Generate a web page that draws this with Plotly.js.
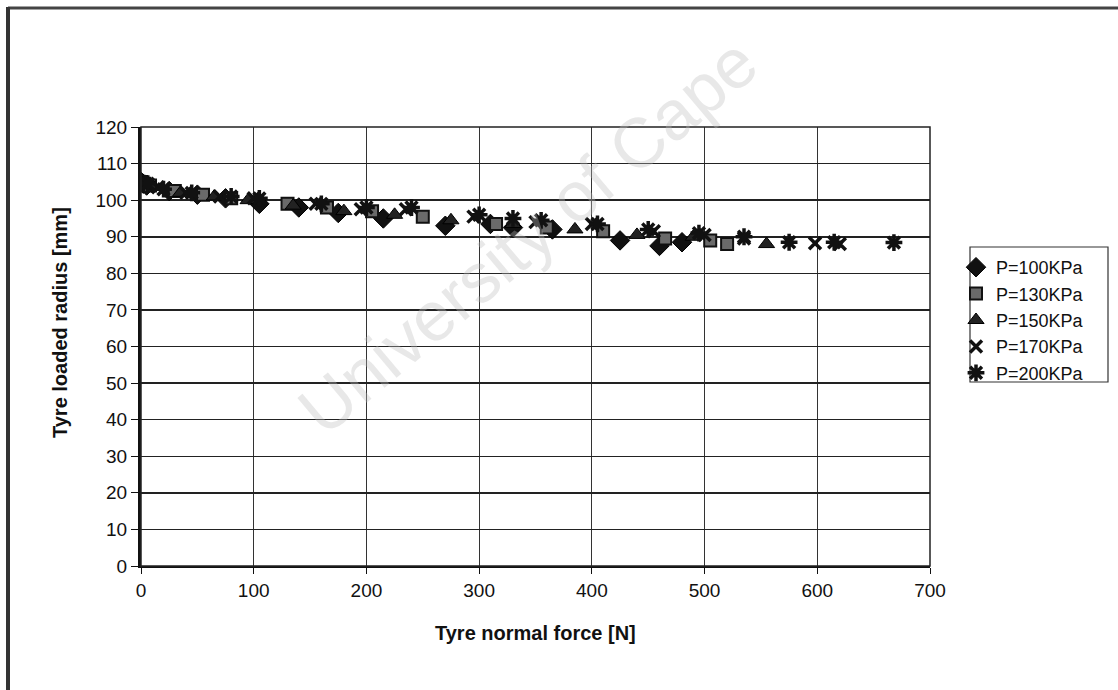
<!DOCTYPE html>
<html>
<head>
<meta charset="utf-8">
<script src="https://cdn.plot.ly/plotly-3.0.1.min.js"></script>
<style>
html,body{margin:0;padding:0;background:#fff;}
#chart{width:1118px;height:690px;}
</style>
</head>
<body>
<div id="chart"></div>
<script>
// Data
const seriesNames = ["P=100KPa", "P=130KPa", "P=150KPa", "P=170KPa", "P=200KPa"];

const force100 = [0, 2, 5, 25, 50, 75, 105, 140, 175, 215, 270, 310, 330, 365, 425, 460, 480];
const radius100 = [105, 104.5, 104, 102.5, 101.5, 100.5, 99, 98, 96.5, 95, 93, 93.5, 92.5, 92, 89, 87.5, 88.5];

const force130 = [0, 3, 8, 30, 55, 80, 130, 165, 205, 250, 315, 360, 410, 465, 505, 520];
const radius130 = [105, 104.5, 104, 102.5, 101.5, 100.5, 99, 98, 97, 95.5, 93.5, 92.5, 91.5, 89.5, 89, 88];

const force150 = [0, 4, 10, 35, 65, 95, 135, 180, 225, 275, 330, 385, 440, 490, 555];
const radius150 = [105, 104.5, 104, 102, 101, 100, 98.5, 97, 96, 94.5, 93.5, 92, 90.5, 90, 88];

const force170 = [0, 5, 15, 40, 70, 100, 155, 195, 235, 295, 350, 400, 455, 500, 535, 598, 620];
const radius170 = [105, 104, 103.5, 102, 101, 100.5, 99, 97.5, 97.5, 95.5, 94, 93.5, 91.5, 90.5, 89.5, 88.2, 88];

const force200 = [0, 6, 20, 45, 80, 105, 160, 200, 240, 300, 330, 355, 405, 450, 495, 535, 575, 615, 668];
const radius200 = [105, 104.5, 103, 102, 101, 100.5, 99, 98, 98, 96, 95, 94.5, 93.5, 92, 91, 90, 88.5, 88.5, 88.4];

const xTicks = [0, 100, 200, 300, 400, 500, 600, 700];
const yTicks = [0, 10, 20, 30, 40, 50, 60, 70, 80, 90, 100, 110, 120];

const FONT = "Liberation Sans, Arial, sans-serif";

const traces = [
  {x: force100, y: radius100, name: seriesNames[0], type: "scatter", mode: "markers",
   marker: {symbol: "diamond", size: 15, color: "#111", line: {color: "#000", width: 1}}},
  {x: force130, y: radius130, name: seriesNames[1], type: "scatter", mode: "markers",
   marker: {symbol: "square", size: 12, color: "#6a6a6a", line: {color: "#111", width: 2}}},
  {x: force150, y: radius150, name: seriesNames[2], type: "scatter", mode: "markers",
   marker: {symbol: "triangle-up", size: 14, color: "#222", line: {color: "#000", width: 1}}},
  {x: force170, y: radius170, name: seriesNames[3], type: "scatter", mode: "markers",
   marker: {symbol: "x-thin-open", size: 12, color: "#111", line: {color: "#111", width: 3.5}}},
  {x: force200, y: radius200, name: seriesNames[4], type: "scatter", mode: "markers",
   marker: {symbol: "asterisk-open", size: 14, color: "#111", line: {color: "#111", width: 3.5}}}
];

const L = 141, R = 930, T = 127, B = 566, W = 1118, H = 690;
const px = v => (v - L) / (R - L);
const py = v => (B - v) / (B - T);

const layout = {
  width: W, height: H,
  margin: {l: L, r: W - R, t: T, b: H - B, pad: 0},
  paper_bgcolor: "#fff",
  plot_bgcolor: "#fff",
  font: {family: FONT, color: "#111", size: 18},
  showlegend: true,
  legend: {
    x: px(956), y: py(249), xanchor: "left", yanchor: "top",
    bgcolor: "rgba(0,0,0,0)", bordercolor: "rgba(0,0,0,0)", borderwidth: 0,
    font: {family: FONT, size: 18, color: "#111"},
    tracegroupgap: 0, itemwidth: 30
  },
  xaxis: {
    range: [0, 700], tickvals: xTicks, ticktext: xTicks.map(String),
    showgrid: true, gridcolor: "#333", gridwidth: 1,
    zeroline: false, showline: true, linecolor: "#111", linewidth: 2,
    ticks: "outside", ticklen: 6, tickcolor: "#111",
    tickfont: {family: FONT, size: 19, color: "#111"}
  },
  yaxis: {
    range: [0, 120], tickvals: yTicks, ticktext: yTicks.map(String),
    showgrid: true, gridcolor: "#222", gridwidth: 1.5,
    zeroline: false, showline: true, linecolor: "#111", linewidth: 3,
    ticks: "outside", ticklen: 7, tickcolor: "#111",
    tickfont: {family: FONT, size: 19, color: "#111"}
  },
  shapes: [
    {type: "rect", xref: "paper", yref: "paper", x0: 0, x1: 1, y0: 0, y1: 1,
     line: {color: "#222", width: 1.5}, fillcolor: "rgba(0,0,0,0)"},
    {type: "rect", xref: "paper", yref: "paper", x0: px(970), x1: px(1108), y0: py(247), y1: py(382),
     line: {color: "#333", width: 1.2}, fillcolor: "rgba(0,0,0,0)"},
    {type: "line", xref: "paper", yref: "paper", x0: px(8), x1: px(1118), y0: py(8), y1: py(8),
     line: {color: "#444", width: 3}},
    {type: "line", xref: "paper", yref: "paper", x0: px(8), x1: px(8), y0: py(7), y1: py(690),
     line: {color: "#333", width: 4}}
  ],
  annotations: [
    {text: "University of Cape", xref: "paper", yref: "paper",
     x: px(528), y: py(236), xanchor: "center", yanchor: "middle", showarrow: false,
     textangle: -40, font: {family: FONT, size: 70, color: "rgba(190,190,190,0.35)"}},
    {text: "<b>Tyre normal force [N]</b>", xref: "paper", yref: "paper",
     x: 0.5, y: py(633), xanchor: "center", yanchor: "middle", showarrow: false,
     font: {family: FONT, size: 20, color: "#111"}},
    {text: "<b>Tyre loaded radius [mm]</b>", xref: "paper", yref: "paper",
     x: px(60), y: py(323), xanchor: "center", yanchor: "middle", showarrow: false,
     textangle: -90, font: {family: FONT, size: 20, color: "#111"}}
  ]
};

Plotly.newPlot("chart", traces, layout, {displayModeBar: false, staticPlot: true});
</script>
</body>
</html>
